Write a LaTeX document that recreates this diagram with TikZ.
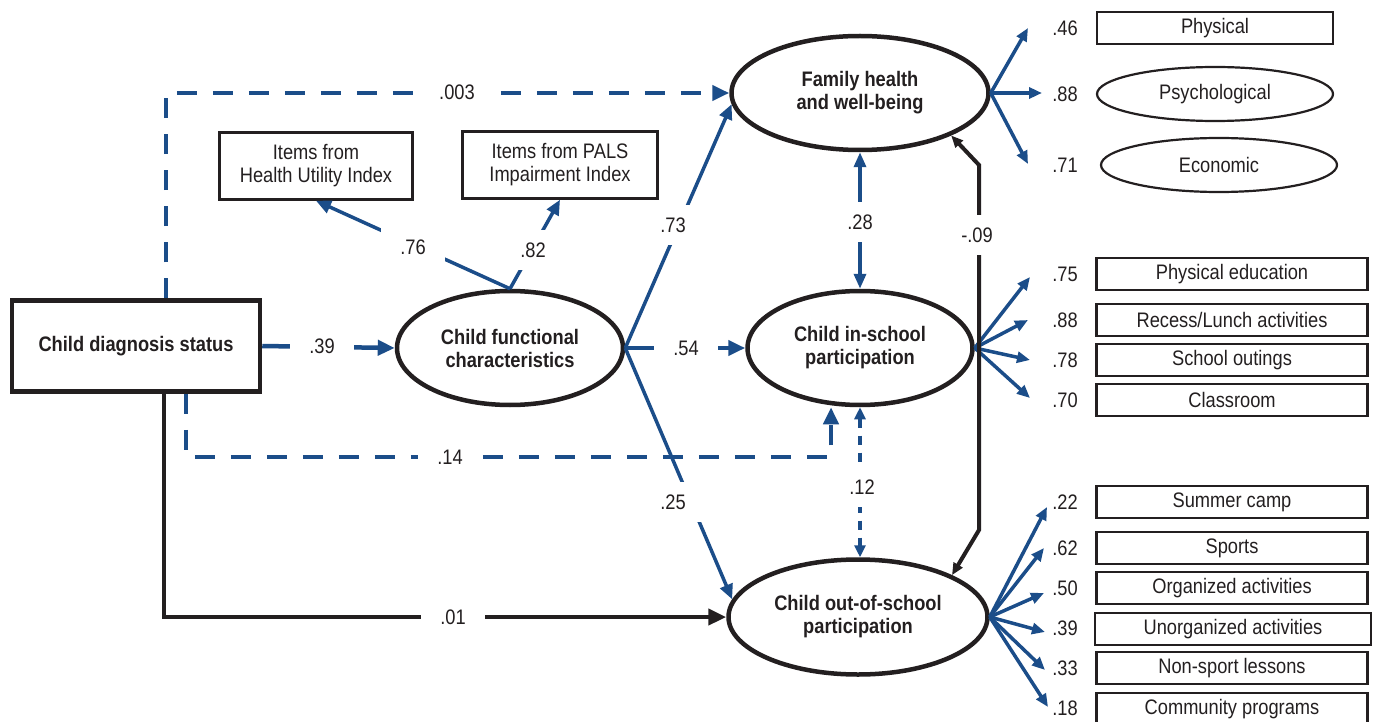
\documentclass[tikz,border=0pt]{standalone}
\usepackage{fontspec}
\setmainfont[FakeStretch=0.87]{Liberation Sans}
\usetikzlibrary{arrows.meta,shapes.geometric}
\definecolor{pblue}{RGB}{27,77,137}
\definecolor{ink}{RGB}{35,31,32}
\newcommand\dfont{\fontsize{21}{23}\selectfont}
\begin{document}
\begin{tikzpicture}[x=1pt,y=-1pt,
  latent/.style={ellipse, draw=ink, line width=4.5pt, inner sep=0pt, align=center, font=\dfont\bfseries, text=ink},
  itembox/.style={rectangle, draw=ink, line width=2.5pt, inner sep=0pt, align=center, font=\dfont, text=ink},
  itemell/.style={ellipse, draw=ink, line width=2.2pt, inner sep=0pt, align=center, font=\dfont, text=ink},
  coef/.style={fill=white, inner xsep=19pt, inner ysep=13pt, font=\dfont, text=ink},
  load/.style={inner sep=0pt, font=\dfont, text=ink},
  bline/.style={draw=pblue, line width=4.5pt},
  bthin/.style={draw=pblue, line width=3.5pt},
  bdash/.style={draw=pblue, line width=4.5pt, dash pattern=on 20pt off 16pt},
  bdots/.style={draw=pblue, line width=3.5pt, dash pattern=on 9pt off 8pt},
  kline/.style={draw=ink, line width=4.5pt},
  bigtip/.style={-{Triangle[length=17pt,width=15pt]}},
  midtip/.style={-{Triangle[length=15pt,width=13pt]}},
  ldtip/.style={-{Triangle[length=13pt,width=11pt]}},
]
\useasboundingbox (0,0) rectangle (1373,722);

% ---------- main nodes ----------
\node[rectangle, draw=ink, line width=4.5pt, minimum width=248pt, minimum height=91pt,
      font=\dfont\bfseries, text=ink] (diag) at (136,346) {Child diagnosis status};
\node[latent, minimum width=226pt, minimum height=114pt] (func) at (510,348) {Child functional\\characteristics};
\node[latent, minimum width=257pt, minimum height=114pt] (fam) at (860,93) {Family health\\and well-being};
\node[latent, minimum width=225pt, minimum height=114pt] (insch) at (860,348) {Child in-school\\participation};
\node[latent, minimum width=259pt, minimum height=115pt] (outsch) at (858,617) {Child out-of-school\\participation};

\node[itembox, minimum width=193pt, minimum height=67pt] (hui) at (316,166) {Items from\\Health Utility Index};
\node[itembox, minimum width=195pt, minimum height=67pt] (pals) at (560,165) {Items from PALS\\Impairment Index};

% ---------- indicators ----------
\node[itembox, minimum width=236pt, minimum height=32pt] (phys) at (1215,28) {Physical};
\node[itemell, minimum width=236pt, minimum height=54pt] (psych) at (1215,94) {Psychological};
\node[itemell, minimum width=236pt, minimum height=54pt] (econ) at (1219,165) {Economic};

\node[itembox, minimum width=271pt, minimum height=32pt] (pe) at (1232,274) {Physical education};
\node[itembox, minimum width=271pt, minimum height=32pt] (recess) at (1232,320) {Recess/Lunch activities};
\node[itembox, minimum width=271pt, minimum height=32pt] (outing) at (1232,360) {School outings};
\node[itembox, minimum width=271pt, minimum height=32pt] (class) at (1232,400) {Classroom};

\node[itembox, minimum width=271pt, minimum height=32pt] (camp) at (1232,502) {Summer camp};
\node[itembox, minimum width=271pt, minimum height=32pt] (sports) at (1232,548) {Sports};
\node[itembox, minimum width=271pt, minimum height=32pt] (org) at (1232,588) {Organized activities};
\node[itembox, minimum width=276pt, minimum height=32pt] (unorg) at (1233,629) {Unorganized activities};
\node[itembox, minimum width=271pt, minimum height=32pt] (nonsport) at (1232,668) {Non-sport lessons};
\node[itembox, minimum width=271pt, minimum height=32pt] (comm) at (1232,709) {Community programs};

% loading labels
\node[load] (l46) at (1065,28) {.46};
\node[load] (l88a) at (1065,94) {.88};
\node[load] (l71) at (1065,165) {.71};
\node[load] (l75) at (1065,274) {.75};
\node[load] (l88b) at (1065,320) {.88};
\node[load] (l78) at (1065,360) {.78};
\node[load] (l70) at (1065,400) {.70};
\node[load] (l22) at (1065,502) {.22};
\node[load] (l62) at (1065,548) {.62};
\node[load] (l50) at (1065,588) {.50};
\node[load] (l39) at (1065,628) {.39};
\node[load] (l33) at (1065,668) {.33};
\node[load] (l18) at (1065,708) {.18};

% loading arrow tips
\coordinate (t46) at (1028,28);
\coordinate (t88a) at (1042,93);
\coordinate (t71) at (1028,164);
\coordinate (t75) at (1030,277);
\coordinate (t88b) at (1028,320);
\coordinate (t78) at (1030,360);
\coordinate (t70) at (1030,398);
\coordinate (t22) at (1047,507);
\coordinate (t62) at (1044,548);
\coordinate (t50) at (1044,593);
\coordinate (t39) at (1045,632);
\coordinate (t33) at (1045,670);
\coordinate (t18) at (1048,707);

\foreach \t in {t46,t88a,t71} \draw[bthin, ldtip] (fam.east) -- (\t);
\foreach \t in {t75,t88b,t78,t70} \draw[bthin, ldtip] (insch.east) -- (\t);
\foreach \t in {t22,t62,t50,t39,t33,t18} \draw[bthin, ldtip] (outsch.east) -- (\t);

% ---------- structural paths ----------
\draw[bdash, bigtip] ([xshift=30pt]diag.north) |- (fam.west);
\coordinate (c14) at (831,457);
\draw[bdash, bigtip] ([xshift=50pt]diag.south) |- (c14) -- (c14 |- insch.south);
\draw[kline, -{Triangle[length=18pt,width=16pt]}] ([xshift=28pt]diag.south) |- (outsch.west);

\draw[bline, bigtip] (diag.east) -- (func.west);
\draw[bline, bigtip] (func.east) -- (insch.west);
\draw[bthin, midtip] (func.east) -- (fam.185);
\draw[bthin, midtip] (func.east) -- (outsch.172);
\draw[bthin, midtip] (func.north) -- (hui.south);
\draw[bthin, midtip] (func.north) -- (pals.south);

\draw[bthin, {Triangle[length=15pt,width=12pt]}-{Triangle[length=15pt,width=12pt]}] (fam.south) -- (insch.north);
\draw[bdots, {Triangle[length=12pt,width=11pt]}-{Triangle[length=12pt,width=11pt]}] (insch.south) -- (insch.south |- outsch.north);

\coordinate (k1) at (979,530);
\coordinate (k2) at (979,165);
\draw[draw=ink, line width=4pt, {Triangle[length=12pt,width=10pt]}-{Triangle[length=12pt,width=10pt]}]
  (outsch.24) -- (k1) -- (k2) -- (fam.-25);

% ---------- coefficient labels ----------
\node[coef] (k003) at (457,92) {.003};
\node[coef] (k39) at (322,346) {.39};
\node[coef] (k54) at (686,348) {.54};
\node[coef] (k14) at (450,457) {.14};
\node[coef] (k01) at (453,617) {.01};
\node[coef] (k73) at (673,225) {.73};
\node[coef] (k25) at (673,502) {.25};
\node[coef] (k76) at (413,247) {.76};
\node[coef] (k82) at (533,250) {.82};
\node[coef] (k28) at (860,222) {.28};
\node[coef] (k12) at (862,487) {.12};
\node[coef] (k09) at (977,235) {-.09};
\end{tikzpicture}
\end{document}
